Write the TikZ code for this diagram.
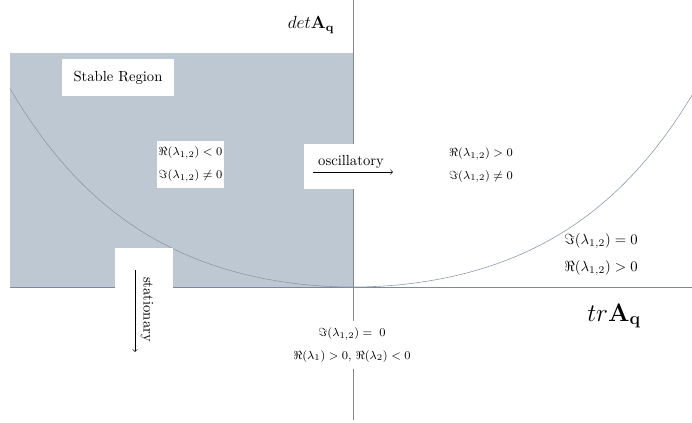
\documentclass[tikz,border=0pt]{standalone}
\usepackage{amsmath,amsfonts,amssymb}
\usetikzlibrary{positioning,arrows}
\definecolor{stablefill}{RGB}{190,200,211}
\definecolor{axiscol}{RGB}{122,138,156}
\definecolor{curvecol}{RGB}{140,153,170}

\begin{document}
\begin{tikzpicture}[x=0.024cm, y=-0.024cm,
   whitebox/.style={fill=white, inner sep=0pt},
   cond/.style={font=\footnotesize, align=center}]
\useasboundingbox (0,0) rectangle (692,422);
\coordinate(o) at (353,287);
\coordinate(ytop) at (353,0);
\coordinate(ybot) at (353,420);
\coordinate(xlft) at (10,287);
\coordinate(xrgt) at (692,287);
\coordinate(shade) at (10,53);

% stable half-plane
\fill [stablefill] (shade) rectangle (o);

\draw [axiscol, semithick] (ytop) -- (ybot);
\draw [axiscol, semithick] (xlft) -- (xrgt);

% boundary curve
\draw [curvecol] plot[domain=-343:339, samples=120] ({353+\x}, {287-38.6*(cosh(0.0073*\x)-1)});

\node [whitebox, minimum width=2.69cm, minimum height=0.89cm] (stable) at (118,77.5) {Stable Region};
\node [whitebox, cond, minimum width=1.61cm, minimum height=1.13cm] (lcond) at (190.5,164.5)
   {$\Re(\lambda_{1,2})<0$\\[6pt]$\Im(\lambda_{1,2})\neq 0$};

% oscillatory
\node [whitebox, minimum width=2.3cm, minimum height=1.08cm] (oscbox) at (352,166.5) {};
\node (osc) at (351,162) {oscillatory};
\coordinate(osca) at (313,172);
\coordinate(oscb) at (393,172);
\draw [->] (osca) -- (oscb);

% stationary
\node [whitebox, minimum width=1.39cm, minimum height=2.69cm] (statbox) at (144,304) {};
\node [rotate=-90] (stat) at (147,309.5) {stationary};
\coordinate(stata) at (135,270);
\coordinate(statb) at (135,352);
\draw [->] (stata) -- (statb);

\node [cond] (rcond) at (481,165) {$\Re(\lambda_{1,2})>0$\\[6pt]$\Im(\lambda_{1,2})\neq 0$};
\node [align=center] (real) at (601,254.5) {$\Im(\lambda_{1,2})=0$\\[6pt]$\Re(\lambda_{1,2})>0$};
\node [whitebox, cond, minimum width=2.4cm, minimum height=1.15cm] (saddle) at (352,345)
   {$\Im(\lambda_{1,2})=\;0$\\[6pt]$\Re(\lambda_1)>0,\,\Re(\lambda_2)<0$};

\node [font=\large] (det) at (311,25) {$det\mathbf{A_q}$};
\node [font=\LARGE] (tr) at (614,316) {$tr\mathbf{A_q}$};
\end{tikzpicture}
\end{document}
